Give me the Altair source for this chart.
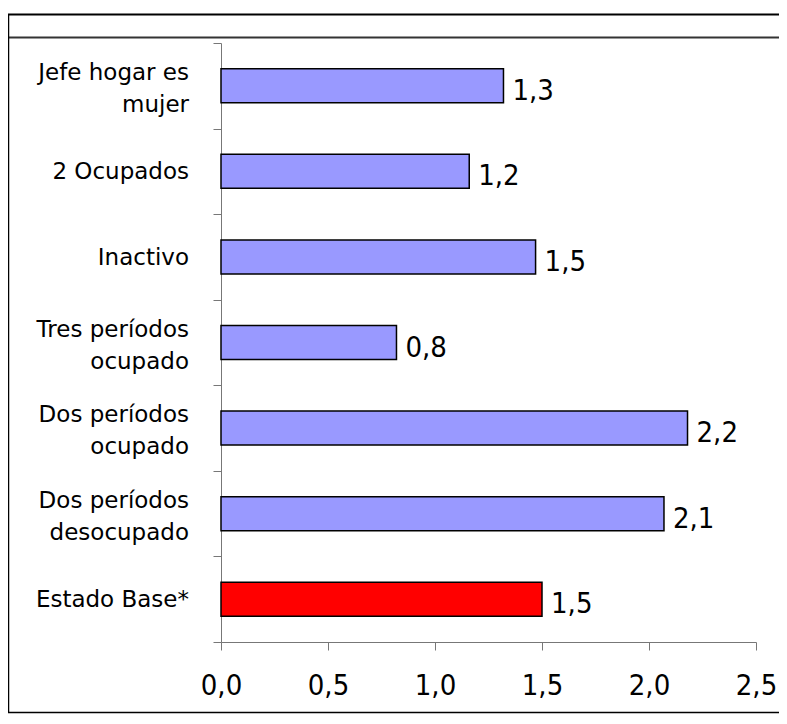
import altair as alt
import pandas as pd

categories = [
    "Jefe hogar es\nmujer",
    "2 Ocupados",
    "Inactivo",
    "Tres períodos\nocupado",
    "Dos períodos\nocupado",
    "Dos períodos\ndesocupado",
    "Estado Base*",
]
values = [1.32, 1.16, 1.47, 0.82, 2.18, 2.07, 1.50]
x_ticks = [0.0, 0.5, 1.0, 1.5, 2.0, 2.5]

df = pd.DataFrame({"cat": categories, "val": values})

W, H = 535, 599
PAD = {"left": 213, "top": 35, "right": 23, "bottom": 72}
RIGHT_EDGE = W + PAD["right"]

num_font = "DejaVu Sans Condensed"
fmt = "replace(format(datum.value, '.1f'), '.', ',')"

base = alt.Chart(df)

y_enc = alt.Y(
    "cat:N",
    sort=categories,
    scale=alt.Scale(paddingInner=0, paddingOuter=0),
    axis=alt.Axis(
        title=None,
        tickBand="extent",
        tickSize=8,
        tickColor="#777777",
        domainColor="#777777",
        labels=False,
    ),
)

x_enc = alt.X(
    "val:Q",
    scale=alt.Scale(domain=[0, 2.5], nice=False),
    axis=alt.Axis(
        title=None,
        values=x_ticks,
        grid=False,
        tickSize=8,
        tickColor="#777777",
        domainColor="#777777",
        labelFont=num_font,
        labelFontSize=29,
        labelColor="black",
        labelPadding=21,
        labelExpr=fmt,
        labelFlush=False,
    ),
)

bars = base.mark_bar(size=34, stroke="black", strokeWidth=1.5).encode(
    x=x_enc,
    y=y_enc,
    color=alt.condition(
        alt.datum.cat == "Estado Base*", alt.value("#FF0000"), alt.value("#9999FF")
    ),
)

label_style = dict(
    align="right",
    baseline="middle",
    font="DejaVu Sans",
    fontSize=23,
    color="black",
    lineBreak="\n",
    lineHeight=32,
)

two_line = base.transform_filter("indexof(datum.cat, '\\n') >= 0").mark_text(
    dy=-13, **label_style
).encode(x=alt.value(-32), y=alt.Y("cat:N", sort=categories), text="cat:N")

one_line = base.transform_filter("indexof(datum.cat, '\\n') < 0").mark_text(
    dy=1, **label_style
).encode(x=alt.value(-32), y=alt.Y("cat:N", sort=categories), text="cat:N")

texts = base.transform_calculate(
    lbl="replace(format(datum.val, '.1f'), '.', ',')"
).mark_text(
    align="left", baseline="middle", dx=9, dy=5, font=num_font, fontSize=29, color="black"
).encode(x="val:Q", y=alt.Y("cat:N", sort=categories), text="lbl:N")

frame_df = pd.DataFrame({"k": [0]})
fr = alt.Chart(frame_df)
top_line = fr.mark_rule(color="black", strokeWidth=2).encode(
    x=alt.value(-213), x2=alt.value(RIGHT_EDGE), y=alt.value(-28.5)
)
title_line = fr.mark_rule(color="#333333", strokeWidth=2).encode(
    x=alt.value(-213), x2=alt.value(RIGHT_EDGE), y=alt.value(-5.5)
)
bottom_line = fr.mark_rule(color="black", strokeWidth=1.5).encode(
    x=alt.value(-213), x2=alt.value(RIGHT_EDGE), y=alt.value(669.5)
)
left_line = fr.mark_rule(color="black", strokeWidth=1.5).encode(
    x=alt.value(-212.5), y=alt.value(-28.5), y2=alt.value(669.5)
)

chart = (
    alt.layer(bars, two_line, one_line, texts, top_line, title_line, bottom_line, left_line)
    .properties(
        width=W,
        height=H,
        padding=PAD,
        autosize=alt.AutoSizeParams(type="none"),
        background="white",
    )
    .configure_view(stroke=None)
)

chart.save("out.html", embed_options={"renderer": "svg", "actions": False})
